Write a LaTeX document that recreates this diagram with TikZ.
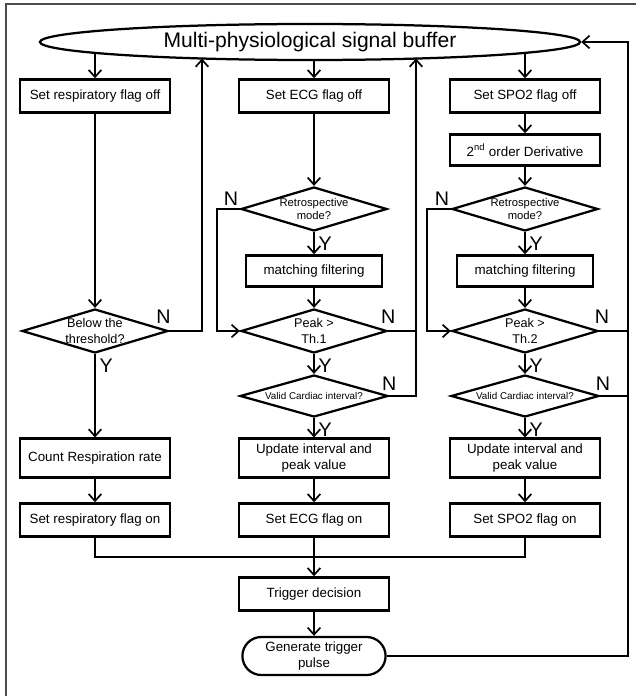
\documentclass[tikz,border=0pt]{standalone}
\usepackage{fontspec}
\setmainfont{Liberation Sans}
\usetikzlibrary{shapes.geometric,shapes.misc,arrows.meta,positioning,backgrounds}

\newcommand{\boxfont}{\fontsize{9.5}{11}\selectfont}
\tikzset{
  box/.style={draw, line width=1.6pt, minimum width=3.75cm, minimum height=0.83cm,
    align=center, inner sep=1pt, font=\boxfont},
  dia/.style={draw, diamond, line width=1.6pt, minimum width=3.65cm,
    minimum height=1.1cm, inner sep=0pt},
  dtxt/.style={align=center, inner sep=0pt, font=\fontsize{8}{9.5}\selectfont},
  arr/.style={line width=1.2pt, -{Straight Barb[length=5pt,width=9pt]}},
  ln/.style={line width=1.2pt},
  yn/.style={inner sep=0pt, font=\fontsize{14}{14}\selectfont},
}

\begin{document}
\begin{tikzpicture}[x=0.025cm, y=-0.025cm]
        \useasboundingbox (0,0) rectangle (636,696);
        \node[draw, ellipse, fill=white, line width=1.6pt, minimum width=13.5cm,
          minimum height=0.9cm, inner sep=0pt, font=\fontsize{15}{15}\selectfont]
          (buf) at (310,42) {Multi-physiological signal buffer};
        % respiration
        \node[box] (resOff) at (95,96) {Set respiratory flag off};
        \node[dia] (below) at (95,331) {};
        \node[dtxt, font=\fontsize{9}{11}\selectfont] (belowT) at (below) {Below the\\threshold?};
        \node[box, minimum height=0.97cm] (count) at (95,458) {Count Respiration rate};
        \node[box] (resOn) at (95,520) {Set respiratory flag on};
        % ECG
        \node[box] (ecgOff) at (314,96) {Set ECG flag off};
        \node[dia] (retro1) at (314,209) {};
        \node[dtxt] (retro1T) at (retro1) {Retrospective\\mode?};
        \node[box, minimum width=3.4cm, minimum height=0.78cm] (match1) at (314,271) {matching filtering};
        \node[dia] (peak1) at (314,331) {};
        \node[dtxt, font=\fontsize{9}{11}\selectfont] (peak1T) at (peak1) {Peak >\\Th.1};
        \node[dia, minimum width=3.7cm, minimum height=1.05cm] (valid1) at (314,396) {};
        \node[dtxt, font=\fontsize{7}{8}\selectfont] (valid1T) at (valid1) {Valid Cardiac interval?};
        \node[box, minimum height=0.97cm] (update1) at (314,458) {Update interval and\\peak value};
        \node[box] (ecgOn) at (314,520) {Set ECG flag on};
        % SPO2
        \node[box] (spoOff) at (525,96) {Set SPO2 flag off};
        \node[box, minimum height=0.78cm] (deriv) at (525,150) {2\textsuperscript{nd} order Derivative};
        \node[dia] (retro2) at (525,209) {};
        \node[dtxt] (retro2T) at (retro2) {Retrospective\\mode?};
        \node[box, minimum width=3.4cm, minimum height=0.78cm] (match2) at (525,271) {matching filtering};
        \node[dia] (peak2) at (525,331) {};
        \node[dtxt, font=\fontsize{9}{11}\selectfont] (peak2T) at (peak2) {Peak >\\Th.2};
        \node[dia, minimum width=3.7cm, minimum height=1.05cm] (valid2) at (525,396) {};
        \node[dtxt, font=\fontsize{7}{8}\selectfont] (valid2T) at (valid2) {Valid Cardiac interval?};
        \node[box, minimum height=0.97cm] (update2) at (525,458) {Update interval and\\peak value};
        \node[box] (spoOn) at (525,520) {Set SPO2 flag on};
        % trigger
        \node[box] (trig) at (314,594) {Trigger decision};
        \node[draw, rounded rectangle, line width=1.6pt, minimum width=3.65cm,
          minimum height=0.95cm, inner sep=1pt, align=center, font=\boxfont]
          (gen) at (314,656) {Generate trigger\\pulse};
        \coordinate (m1) at (202,58.5);
        \coordinate (m2) at (416,58.5);
        \coordinate (rt) at (628,42);
        \coordinate (mg) at (314,557);
        \begin{scope}[on background layer]
            \draw[gray!60!black, line width=1.2pt] (6,700) -- (6,4) -- (640,4);
            \draw[arr] (resOff |- buf) -- (resOff);
            \draw[arr] (ecgOff |- buf) -- (ecgOff);
            \draw[arr] (spoOff |- buf) -- (spoOff);
        \end{scope}
        % columns
        \draw[arr] (resOff) -- (below);
        \draw[arr] (below) -- (count);
        \draw[arr] (count) -- (resOn);
        \draw[arr] (below.east) -| (m1);
        \draw[arr] (ecgOff) -- (retro1);
        \draw[arr] (retro1) -- (match1);
        \draw[arr] (match1) -- (peak1);
        \draw[arr] (peak1) -- (valid1);
        \draw[arr] (valid1) -- (update1);
        \draw[arr] (update1) -- (ecgOn);
        \draw[arr] (retro1.west) -- ++(-23,0) |- (peak1.west);
        \draw[ln] (peak1.east) -- (peak1.east -| m2);
        \draw[arr] (valid1.east) -| (m2);
        \draw[arr] (spoOff) -- (deriv);
        \draw[arr] (deriv) -- (retro2);
        \draw[arr] (retro2) -- (match2);
        \draw[arr] (match2) -- (peak2);
        \draw[arr] (peak2) -- (valid2);
        \draw[arr] (valid2) -- (update2);
        \draw[arr] (update2) -- (spoOn);
        \draw[arr] (retro2.west) -- ++(-24,0) |- (peak2.west);
        \draw[ln] (peak2.east) -- (peak2.east -| rt);
        \draw[ln] (valid2.east) -- (valid2.east -| rt);
        % merge and trigger
        \draw[ln] (resOn) |- (mg) -| (spoOn);
        \draw[arr] (ecgOn) -- (trig);
        \draw[arr] (trig) -- (gen);
        \draw[arr] (gen.east) -| (rt) -- (buf.east);
        % Y / N
        \node[yn, above=5pt of below.east, xshift=-4pt] (belowN) {N};
        \node[yn, below right=3pt and 3pt of below.south] (belowY) {Y};
        \node[yn, above left=2pt and 1pt of retro1.west] (retro1N) {N};
        \node[yn, below right=3pt and 3pt of retro1.south] (retro1Y) {Y};
        \node[yn, above=5pt of peak1.east] (peak1N) {N};
        \node[yn, below right=3pt and 3pt of peak1.south] (peak1Y) {Y};
        \node[yn, above=4pt of valid1.east] (valid1N) {N};
        \node[yn, below right=3pt and 3pt of valid1.south] (valid1Y) {Y};
        \node[yn, above left=2pt and 1pt of retro2.west] (retro2N) {N};
        \node[yn, below right=3pt and 3pt of retro2.south] (retro2Y) {Y};
        \node[yn, above=5pt of peak2.east, xshift=2pt] (peak2N) {N};
        \node[yn, below right=3pt and 3pt of peak2.south] (peak2Y) {Y};
        \node[yn, above=4pt of valid2.east, xshift=2pt] (valid2N) {N};
        \node[yn, below right=3pt and 3pt of valid2.south] (valid2Y) {Y};
\end{tikzpicture}
\end{document}
